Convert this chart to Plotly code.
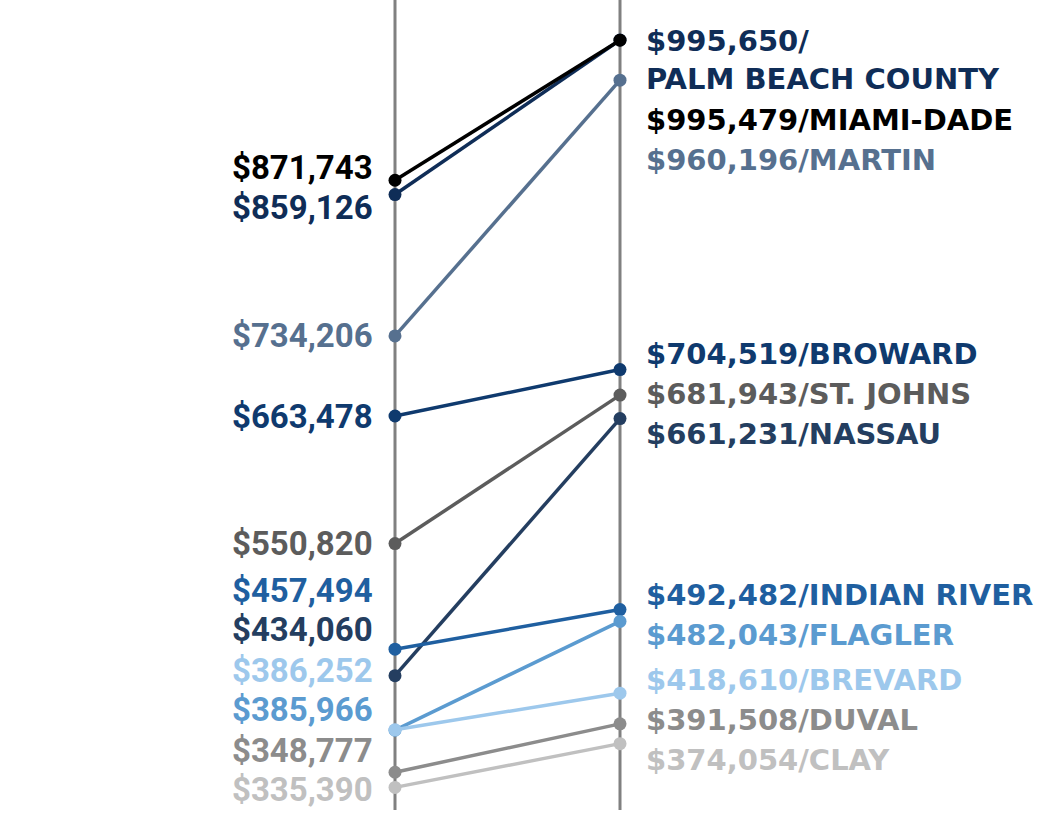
import plotly.graph_objects as go

# median price, before (left column) and after (right column)
counties = [
    "PALM BEACH COUNTY",
    "MIAMI-DADE",
    "MARTIN",
    "BROWARD",
    "ST. JOHNS",
    "NASSAU",
    "INDIAN RIVER",
    "FLAGLER",
    "BREVARD",
    "DUVAL",
    "CLAY",
]
before = [859126, 871743, 734206, 663478, 550820, 434060, 457494, 385966, 386252, 348777, 335390]
after = [995650, 995479, 960196, 704519, 681943, 661231, 492482, 482043, 418610, 391508, 374054]

colors = [
    "#0f2d57",
    "#000000",
    "#56708f",
    "#0f3a6e",
    "#5c5c5c",
    "#243e60",
    "#1f5fa0",
    "#5b9bd0",
    "#9dc8ec",
    "#8c8c8c",
    "#c0c0c0",
]

W, H = 1058, 815
YMIN, YMAX = 311000, 1031000
XMIN, XMAX = -1.7556, 2.9467
GAP = 40


def to_px(v):
    return (YMAX - v) / (YMAX - YMIN) * H


def spread(targets, nlines, lo, hi):
    # push labels apart so they don't collide, keep clusters centred on their dots
    order = sorted(range(len(targets)), key=lambda i: targets[i])
    clusters = [[i] for i in order]

    def place(cl):
        offs = [0]
        for a in cl[:-1]:
            offs.append(offs[-1] + nlines[a] * GAP)
        start = sum(targets[i] - o for i, o in zip(cl, offs)) / len(cl)
        end = start + offs[-1] + (nlines[cl[-1]] - 1) * GAP
        if end > hi:
            start -= end - hi
        if start < lo:
            start = lo
        return [start + o for o in offs]

    while True:
        pos = [place(c) for c in clusters]
        merged = False
        for k in range(len(clusters) - 1):
            last = clusters[k][-1]
            if pos[k + 1][0] < pos[k][-1] + nlines[last] * GAP:
                clusters[k] = clusters[k] + clusters[k + 1]
                del clusters[k + 1]
                merged = True
                break
        if not merged:
            break
    out = [0] * len(targets)
    for c, p in zip(clusters, pos):
        for i, y in zip(c, p):
            out[i] = y
    return out


fig = go.Figure()

for i in range(len(counties)):
    fig.add_trace(
        go.Scatter(
            x=[0, 1],
            y=[before[i], after[i]],
            mode="lines+markers",
            line=dict(color=colors[i], width=3.5),
            marker=dict(color=colors[i], size=13),
            hoverinfo="skip",
        )
    )

left_txt = ["${:,}".format(v) for v in before]
right_txt = []
for c, v in zip(counties, after):
    if len(c) > 14:
        right_txt.append("${:,}/<br>{}".format(v, c))
    else:
        right_txt.append("${:,}/{}".format(v, c))

left_lines = [1] * len(before)
right_lines = [t.count("<br>") + 1 for t in right_txt]
left_pos = spread([to_px(v) for v in before], left_lines, 40, 790)
right_pos = spread([to_px(v) for v in after], right_lines, 40, 790)

for i in range(len(counties)):
    fig.add_annotation(
        x=0,
        y=before[i],
        text=left_txt[i],
        showarrow=False,
        xanchor="right",
        yanchor="middle",
        xshift=-20,
        yshift=to_px(before[i]) - left_pos[i],
        font=dict(family="Roboto", size=33, color=colors[i], weight="bold"),
    )
    centre = right_pos[i] + (right_lines[i] - 1) * GAP / 2
    fig.add_annotation(
        x=1,
        y=after[i],
        text=right_txt[i],
        showarrow=False,
        xanchor="left",
        yanchor="middle",
        align="left",
        xshift=24,
        yshift=to_px(after[i]) - centre,
        font=dict(family="DejaVu Sans", size=29, color=colors[i], weight="bold"),
    )

for xv in [0, 1]:
    fig.add_shape(
        type="line",
        x0=xv,
        x1=xv,
        xref="x",
        yref="paper",
        y0=0.006,
        y1=1,
        line=dict(color="#808080", width=3),
        layer="below",
    )

fig.update_layout(
    width=W,
    height=H,
    margin=dict(l=0, r=0, t=0, b=0),
    paper_bgcolor="white",
    plot_bgcolor="white",
    showlegend=False,
    hovermode=False,
    xaxis=dict(range=[XMIN, XMAX], visible=False, fixedrange=True),
    yaxis=dict(range=[YMIN, YMAX], visible=False, fixedrange=True),
)

fig.write_html(
    "out.html",
    config={"displayModeBar": False},
    post_script="document.body.style.margin='0';",
)
